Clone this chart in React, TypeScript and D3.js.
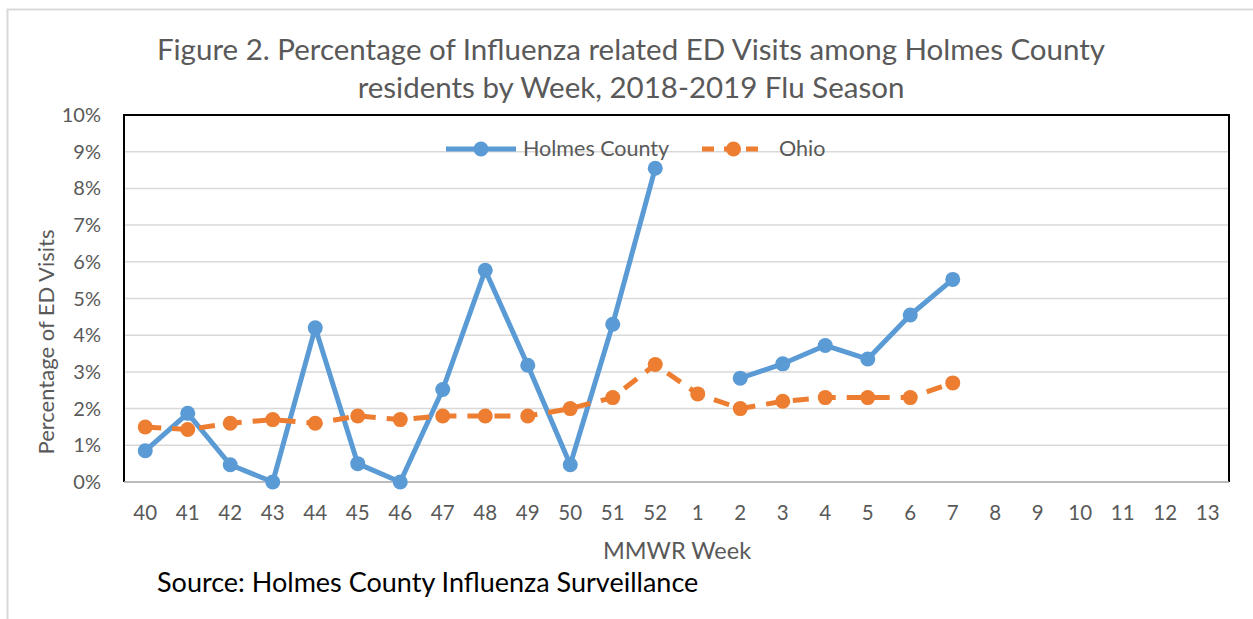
import React, { useEffect, useRef } from 'react';
import * as d3 from 'd3';

const weeks = ['40', '41', '42', '43', '44', '45', '46', '47', '48', '49', '50', '51', '52',
  '1', '2', '3', '4', '5', '6', '7', '8', '9', '10', '11', '12', '13'];
const holmes: (number | null)[] = [0.85, 1.87, 0.47, 0, 4.2, 0.5, 0, 2.52, 5.77, 3.18, 0.47, 4.3, 8.55,
  null, 2.83, 3.22, 3.72, 3.35, 4.55, 5.52, null, null, null, null, null, null];
const ohio: (number | null)[] = [1.5, 1.43, 1.6, 1.7, 1.6, 1.8, 1.7, 1.8, 1.8, 1.8, 2.0, 2.3, 3.2,
  2.4, 2.0, 2.2, 2.3, 2.3, 2.3, 2.7, null, null, null, null, null, null];
const yTicks = [0, 1, 2, 3, 4, 5, 6, 7, 8, 9, 10];

const W = 1253;
const H = 619;
const FONT = 'Lato, "Open Sans", sans-serif';
const GRAY = '#595959';

export default function App() {
  const svgRef = useRef<SVGSVGElement>(null);

  useEffect(() => {
    const svg = d3.select(svgRef.current);
    svg.selectAll('*').remove();

    const m = { left: 124, right: 1229, top: 115, bottom: 482 };
    const x = d3.scaleBand().domain(weeks).range([m.left, m.right]);
    const y = d3.scaleLinear().domain([0, 10]).range([m.bottom, m.top]);
    const cx = (w: string) => x(w)! + x.bandwidth() / 2;

    svg.append('rect').attr('width', W).attr('height', H).attr('fill', '#fff');
    // outer frame (top and left edges visible)
    svg.append('path').attr('d', `M7.5,${H} V9.5 H${W}`)
      .attr('fill', 'none').attr('stroke', '#d9d9d9').attr('stroke-width', 2);

    // title
    const title = svg.append('text').attr('text-anchor', 'middle')
      .attr('font-family', FONT).attr('font-size', 29.5).attr('fill', GRAY);
    title.append('tspan').attr('x', 631).attr('y', 60)
      .text('Figure 2. Percentage of Influenza related ED Visits among Holmes County');
    title.append('tspan').attr('x', 631).attr('y', 98)
      .text('residents by Week, 2018-2019 Flu Season');

    // gridlines
    svg.append('g').selectAll('line').data(yTicks.slice(1)).join('line')
      .attr('x1', m.left).attr('x2', m.right)
      .attr('y1', d => y(d)).attr('y2', d => y(d))
      .attr('stroke', '#d9d9d9').attr('stroke-width', 1.5);

    // plot frame
    svg.append('path')
      .attr('d', `M${m.left},${m.bottom} V${m.top} H${m.right} V${m.bottom}`)
      .attr('fill', 'none').attr('stroke', '#000').attr('stroke-width', 2);
    svg.append('line').attr('x1', m.left).attr('x2', m.right)
      .attr('y1', m.bottom).attr('y2', m.bottom)
      .attr('stroke', '#a6a6a6').attr('stroke-width', 1.5);

    // y tick labels
    svg.append('g').selectAll('text').data(yTicks).join('text')
      .attr('x', 101).attr('y', d => y(d) + 7)
      .attr('text-anchor', 'end').attr('font-family', FONT).attr('font-size', 20)
      .attr('fill', GRAY).text(d => `${d}%`);

    // x tick labels
    svg.append('g').selectAll('text').data(weeks).join('text')
      .attr('x', d => cx(d)).attr('y', 520)
      .attr('text-anchor', 'middle').attr('font-family', FONT).attr('font-size', 20.5)
      .attr('fill', GRAY).text(d => d);

    // axis titles
    svg.append('text').attr('transform', 'translate(54,342) rotate(-90)')
      .attr('text-anchor', 'middle').attr('font-family', FONT).attr('font-size', 22)
      .attr('fill', GRAY).text('Percentage of ED Visits');
    svg.append('text').attr('x', 677).attr('y', 559)
      .attr('text-anchor', 'middle').attr('font-family', FONT).attr('font-size', 23.5)
      .attr('fill', GRAY).text('MMWR Week');

    // source
    svg.append('text').attr('x', 157).attr('y', 592)
      .attr('font-family', FONT).attr('font-size', 27).attr('fill', '#000')
      .text('Source: Holmes County Influenza Surveillance');

    const series = [
      { name: 'Holmes County', values: holmes, color: '#5b9bd5', dash: null as string | null },
      { name: 'Ohio', values: ohio, color: '#ed7d31', dash: '16 11' },
    ];

    // legend
    const legend = [
      { s: series[0], x0: 446, x1: 516, tx: 523 },
      { s: series[1], x0: 702, x1: 765, tx: 779 },
    ];
    legend.forEach(l => {
      const g = svg.append('g');
      g.append('line').attr('x1', l.x0).attr('x2', l.x1).attr('y1', 149).attr('y2', 149)
        .attr('stroke', l.s.color).attr('stroke-width', 5)
        .attr('stroke-dasharray', l.s.dash ? '12 10' : null);
      g.append('circle').attr('cx', (l.x0 + l.x1) / 2).attr('cy', 149).attr('r', 7.5)
        .attr('fill', l.s.color);
      g.append('text').attr('x', l.tx).attr('y', 156).attr('font-family', FONT)
        .attr('font-size', 21.5).attr('fill', GRAY).text(l.s.name);
    });

    // series
    series.forEach(s => {
      const pts = weeks.map((w, i) => ({ w, v: s.values[i] }));
      const line = d3.line<{ w: string; v: number | null }>()
        .defined(d => d.v !== null)
        .x(d => cx(d.w)).y(d => y(d.v as number));
      svg.append('path').datum(pts).attr('d', line)
        .attr('fill', 'none').attr('stroke', s.color).attr('stroke-width', 5)
        .attr('stroke-linejoin', 'round')
        .attr('stroke-dasharray', s.dash);
      svg.append('g').selectAll('circle').data(pts.filter(d => d.v !== null)).join('circle')
        .attr('cx', d => cx(d.w)).attr('cy', d => y(d.v as number)).attr('r', 7.5)
        .attr('fill', s.color);
    });
  }, []);

  return (
    <svg ref={svgRef} width={W} height={H}
      style={{ position: 'absolute', left: 0, top: 0, display: 'block' }} />
  );
}
